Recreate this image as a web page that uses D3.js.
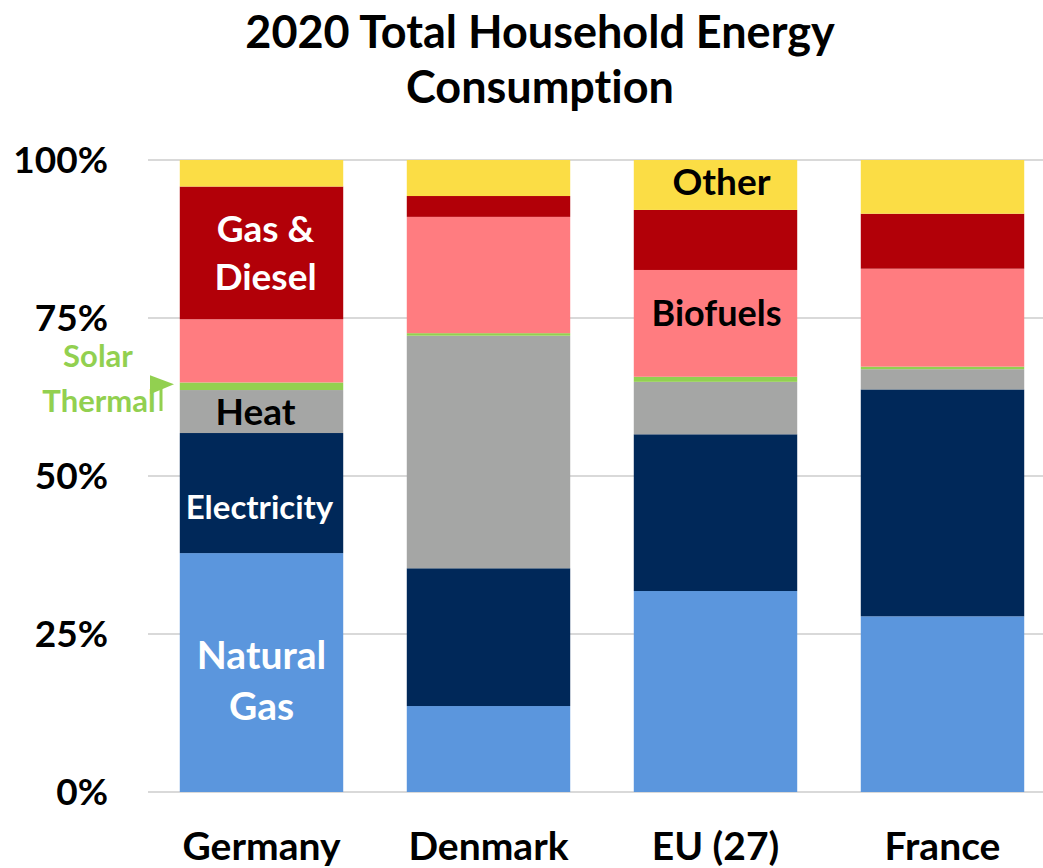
<!DOCTYPE html>
<html lang="en">
<head>
    <meta charset="UTF-8">
    <title>2020 Total Household Energy Consumption</title>
    <script src="https://d3js.org/d3.v7.min.js" charset="utf-8"></script>
    <style>
        body, html {
            margin: 0;
            padding: 0;
            background: #fff;
            overflow: hidden;
        }
        text {
            font-family: Lato, "Open Sans", sans-serif;
            font-weight: bold;
            font-variant-ligatures: none;
        }
    </style>
</head>
<body>
    <svg id="chart"></svg>

    <script>
        // data (percent of total household energy)
        const countries   = ['Germany', 'Denmark', 'EU (27)', 'France'];
        const naturalGas  = [37.8, 13.6, 31.8, 27.8];
        const electricity = [19.0, 21.8, 24.8, 35.9];
        const heat        = [6.8, 36.8, 8.3, 3.2];
        const solar       = [1.2, 0.4, 0.8, 0.4];
        const biofuels    = [10.0, 18.4, 16.9, 15.5];
        const gasDiesel   = [21.0, 3.3, 9.5, 8.7];
        const other       = [4.2, 5.7, 7.9, 8.5];
        const yTicks      = [0, 25, 50, 75, 100];

        const keys = ['Natural Gas', 'Electricity', 'Heat', 'Solar Thermal', 'Biofuels', 'Gas & Diesel', 'Other'];
        const colors = ['#5b96dd', '#002859', '#a5a6a5', '#92d050', '#ff7c80', '#b20008', '#fbdd45'];
        const seriesValues = [naturalGas, electricity, heat, solar, biofuels, gasDiesel, other];

        const rows = countries.map((c, i) => {
            const row = { country: c };
            keys.forEach((k, j) => row[k] = seriesValues[j][i]);
            return row;
        });

        const width = 1043;
        const height = 868;

        const svg = d3.select('#chart')
            .attr('width', width)
            .attr('height', height);

        const x = d3.scaleBand()
            .domain(countries)
            .range([148, 1056])
            .paddingInner(0.28)
            .paddingOuter(0.14);

        const y = d3.scaleLinear()
            .domain([0, 100])
            .range([792, 160]);

        const color = d3.scaleOrdinal().domain(keys).range(colors);

        // title
        svg.append('text')
            .attr('x', 540)
            .attr('y', 48)
            .attr('text-anchor', 'middle')
            .style('font-size', '45px')
            .text('2020 Total Household Energy');
        svg.append('text')
            .attr('x', 540)
            .attr('y', 103)
            .attr('text-anchor', 'middle')
            .style('font-size', '45px')
            .text('Consumption');

        // gridlines
        svg.append('g')
            .selectAll('line')
            .data(yTicks)
            .join('line')
            .attr('x1', 148)
            .attr('x2', width)
            .attr('y1', d => y(d))
            .attr('y2', d => y(d))
            .style('stroke', '#d9d9d9')
            .style('stroke-width', 2);

        // y axis labels
        svg.append('g')
            .selectAll('text')
            .data(yTicks)
            .join('text')
            .attr('x', 108)
            .attr('y', d => y(d))
            .attr('dy', '0.36em')
            .attr('text-anchor', 'end')
            .style('font-size', '37px')
            .text(d => d + '%');

        // x axis labels
        svg.append('g')
            .selectAll('text')
            .data(countries)
            .join('text')
            .attr('x', d => x(d) + x.bandwidth() / 2)
            .attr('y', 860)
            .attr('text-anchor', 'middle')
            .style('font-size', '39px')
            .text(d => d);

        // stacked bars
        const stack = d3.stack().keys(keys);
        const stacked = stack(rows);

        svg.append('g')
            .selectAll('g')
            .data(stacked)
            .join('g')
            .style('fill', d => color(d.key))
            .selectAll('rect')
            .data(d => d)
            .join('rect')
            .attr('x', d => x(d.data.country))
            .attr('y', d => y(d[1]))
            .attr('width', x.bandwidth())
            .attr('height', d => y(d[0]) - y(d[1]));

        // in-bar labels
        const labels = [
            { key: 'Gas & Diesel', country: 'Germany', lines: ['Gas &', 'Diesel'], fill: '#fff', size: 37, dx: 4, dy: 0 },
            { key: 'Heat', country: 'Germany', lines: ['Heat'], fill: '#000', size: 37, dx: -6, dy: 0 },
            { key: 'Electricity', country: 'Germany', lines: ['Electricity'], fill: '#fff', size: 33, dx: -2, dy: 14 },
            { key: 'Natural Gas', country: 'Germany', lines: ['Natural', 'Gas'], fill: '#fff', size: 39, dx: 0, dy: 8 },
            { key: 'Other', country: 'EU (27)', lines: ['Other'], fill: '#000', size: 37, dx: 6, dy: -3 },
            { key: 'Biofuels', country: 'EU (27)', lines: ['Biofuels'], fill: '#000', size: 36, dx: 1, dy: -10 }
        ];

        labels.forEach(l => {
            const seg = stacked.find(s => s.key === l.key)[countries.indexOf(l.country)];
            const cy = (y(seg[0]) + y(seg[1])) / 2 + l.dy;
            const lh = l.size * 1.3;
            const t = svg.append('text')
                .attr('text-anchor', 'middle')
                .style('fill', l.fill)
                .style('font-size', l.size + 'px');
            l.lines.forEach((line, i) => {
                t.append('tspan')
                    .attr('x', x(l.country) + x.bandwidth() / 2 + l.dx)
                    .attr('y', cy + (i - (l.lines.length - 1) / 2) * lh)
                    .attr('dy', '0.36em')
                    .text(line);
            });
        });

        // Solar Thermal callout, outside the Germany bar
        const solarSeg = stacked[3][0];
        const solarY = (y(solarSeg[0]) + y(solarSeg[1])) / 2;
        const green = '#92d050';
        const callout = svg.append('g');
        callout.append('line')
            .attr('x1', 161).attr('x2', 161)
            .attr('y1', 411).attr('y2', solarY - 2)
            .style('stroke', green)
            .style('stroke-width', 3);
        callout.append('path')
            .attr('d', `M150,${solarY - 11} L174,${solarY - 2} L150,${solarY + 8} Z`)
            .style('fill', green);
        callout.append('text')
            .attr('x', 98)
            .attr('y', 356)
            .attr('dy', '0.36em')
            .attr('text-anchor', 'middle')
            .style('fill', green)
            .style('font-size', '31px')
            .text('Solar');
        callout.append('text')
            .attr('x', 99)
            .attr('y', 401)
            .attr('dy', '0.36em')
            .attr('text-anchor', 'middle')
            .style('fill', green)
            .style('font-size', '31px')
            .text('Thermal');
    </script>
</body>
</html>
